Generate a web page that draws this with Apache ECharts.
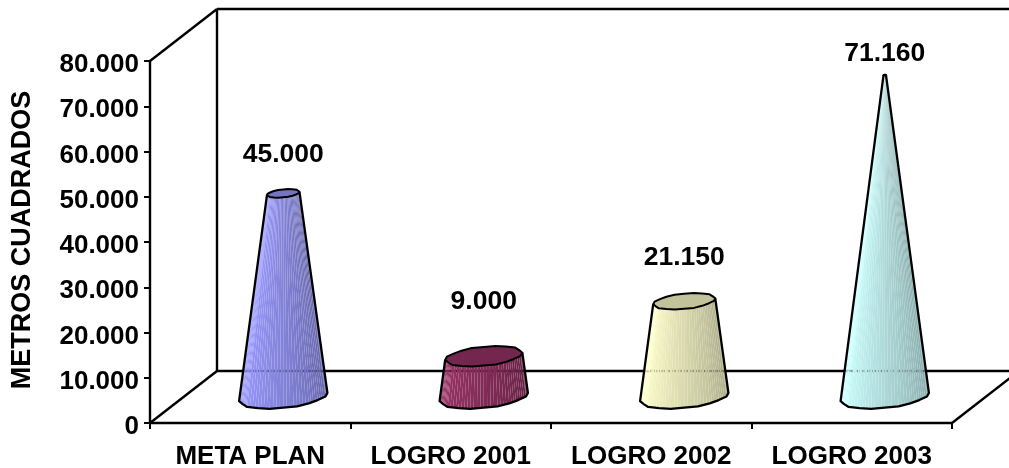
<!DOCTYPE html>
<html>
<head>
<meta charset="utf-8">
<style>html,body{margin:0;padding:0;background:#fff;overflow:hidden}#c{width:1009px;height:468px}</style>
<script src="https://cdn.jsdelivr.net/npm/echarts@6/dist/echarts.min.js"></script>
</head>
<body>
<div id="c"></div>
<script>
var categories = ['META PLAN', 'LOGRO 2001', 'LOGRO 2002', 'LOGRO 2003'];
var values = [45000, 9000, 21150, 71160];
var axisTitle = 'METROS CUADRADOS';
var coneColors = [[153,153,255],[153,51,102],[255,255,204],[204,255,255]];
var labelLift = [39, 55, 44, 21];
var rimWobble = [1.02, 0.985, 1.03, 0.99, 1.015, 0.98, 1.03, 1.0, 0.985, 1.025];

var FONT = '"Liberation Sans", Arial, sans-serif';
var DEPTH = [67, -52];
var BASE_R = 43.5;
var MID = [33, -26];
var SEGS = 10, SUB = 4;
var maxV = Math.max.apply(null, values);
function fmt(v){ return String(v).replace(/\B(?=(\d{3})+$)/g, '.'); }
function rgb(c, f){ return 'rgb(' + c.map(function(k){ return Math.round(Math.min(255, k * f)); }).join(',') + ')'; }
function pt(c, r, t, w){
  var rr = r * (w || 1);
  return [c[0] + rr * (0.933 * Math.cos(t) + 0.347 * Math.sin(t)), c[1] - rr * 0.267 * Math.sin(t)];
}
var T0 = 20.4 * Math.PI / 180;

function renderFrame(params, api){
  var cs = params.coordSys;
  var x0 = cs.x, x1 = cs.x + cs.width, y0 = cs.y, y1 = cs.y + cs.height;
  var dx = DEPTH[0], dy = DEPTH[1];
  var segs = [
    [x0, y1, x0 + dx, y1 + dy],
    [x0, y0, x0 + dx, y0 + dy],
    [x0 + dx, y0 + dy, x0 + dx, y1 + dy],
    [x0 + dx, y0 + dy, x1 + dx, y0 + dy],
    [x0 + dx, y1 + dy, x1 + dx, y1 + dy],
    [x1, y1, x1 + dx, y1 + dy]
  ];
  return {type: 'group', children: segs.map(function(s){
    return {type: 'line', shape: {x1: s[0], y1: s[1], x2: s[2], y2: s[3]},
      style: {stroke: '#000', lineWidth: 2.4, fill: null}};
  })};
}

function renderCone(params, api){
  var i = api.value(0), v = api.value(1);
  var b = api.coord([i, 0]), t = api.coord([i, v]);
  var base = [b[0] + MID[0], b[1] + MID[1]];
  var top = [t[0] + MID[0], t[1] + MID[1]];
  var rT = Math.max(1.2, BASE_R * (1 - v / maxV));
  var col = coneColors[i];
  var kids = [];
  var n = SEGS * SUB;
  function arcPt(c, r, k){
    var seg = Math.floor(k / SUB), fr = (k - seg * SUB) / SUB;
    var a = Math.PI + T0 + Math.PI * seg / SEGS;
    var a2 = Math.PI + T0 + Math.PI * (seg + 1) / SEGS;
    var p = pt(c, r, a, rimWobble[seg % rimWobble.length]), q = pt(c, r, a2, rimWobble[(seg + 1) % rimWobble.length]);
    return [p[0] + (q[0] - p[0]) * fr, p[1] + (q[1] - p[1]) * fr];
  }
  for (var k = 0; k < n; k++){
    var a1 = arcPt(base, BASE_R, k), a2 = arcPt(base, BASE_R, k + 1);
    var c1 = arcPt(top, rT, k), c2 = arcPt(top, rT, k + 1);
    var s = (k + 0.5) / n;
    var f = s < 0.12 ? 0.98 + s * 0.2 : 1.0 - (s - 0.12) * 0.4;
    kids.push({type: 'polygon', shape: {points: [a1, a2, c2, c1]}, style: {fill: rgb(col, f)}});
  }
  var backY = b[1] + DEPTH[1];
  if (top[1] < backY){
    var u = (base[1] - backY) / (base[1] - top[1]);
    var rB = BASE_R + (rT - BASE_R) * u;
    kids.push({type: 'line', shape: {x1: base[0] - rB, y1: backY, x2: base[0] + rB, y2: backY},
      style: {stroke: 'rgba(0,0,0,0.35)', lineWidth: 1.5, lineDash: [1, 5], fill: null}});
  }
  var outline = [];
  outline.push(arcPt(top, rT, 0));
  for (var m = 0; m <= n; m += SUB) outline.push(arcPt(base, BASE_R, m));
  outline.push(arcPt(top, rT, n));
  kids.push({type: 'polyline', shape: {points: outline},
    style: {stroke: '#000', lineWidth: 2.3, fill: null, lineJoin: 'round'}});
  var cap = [];
  for (var j = 0; j < SEGS * 2; j++) cap.push(pt(top, rT, T0 + Math.PI * j / SEGS, rimWobble[j % rimWobble.length]));
  kids.push({type: 'polygon', shape: {points: cap},
    style: {fill: rgb(col, 0.76), stroke: '#000', lineWidth: 2, lineJoin: 'round'}});
  kids.push({type: 'text', style: {text: fmt(v), x: top[0], y: top[1] - labelLift[i],
    font: 'bold 26.5px ' + FONT, fill: '#000', align: 'center', verticalAlign: 'middle'}});
  return {type: 'group', children: kids};
}

var chart = echarts.init(document.getElementById('c'), null, {renderer: 'canvas'});
chart.setOption({
  animation: false,
  backgroundColor: '#fff',
  grid: {left: 150, top: 61, width: 802, height: 362, containLabel: false, outerBoundsMode: 'none'},
  xAxis: {
    type: 'category', data: categories,
    axisLine: {show: true, lineStyle: {color: '#000', width: 2.4}},
    axisTick: {show: true, alignWithLabel: false, length: 6, lineStyle: {color: '#000', width: 2}},
    axisLabel: {color: '#000', fontFamily: FONT, fontWeight: 'bold', fontSize: 26, margin: 21, interval: 0},
    splitLine: {show: false}
  },
  yAxis: {
    type: 'value', min: 0, max: 80000, interval: 10000,
    name: axisTitle, nameLocation: 'middle', nameGap: 114, nameRotate: 90,
    nameTextStyle: {color: '#000', fontFamily: FONT, fontWeight: 'bold', fontSize: 27, padding: [0, 0, 0, 4]},
    axisLine: {show: true, lineStyle: {color: '#000', width: 2.4}},
    axisTick: {show: true, length: 6, lineStyle: {color: '#000', width: 2}},
    axisLabel: {margin: 11, formatter: function(v){ return '{n|' + fmt(v) + '}'; },
      rich: {n: {color: '#000', fontFamily: FONT, fontWeight: 'bold', fontSize: 26, padding: [8, 0, 0, 0]}}},
    splitLine: {show: false}
  },
  series: [
    {type: 'custom', clip: false, z: 1, silent: true, renderItem: renderFrame, data: [[0, 0]], encode: {x: 0, y: 1}},
    {type: 'custom', clip: false, z: 2, silent: true, renderItem: renderCone,
     data: values.map(function(v, i){ return [i, v]; }), encode: {x: 0, y: 1}}
  ]
});
</script>
</body>
</html>
